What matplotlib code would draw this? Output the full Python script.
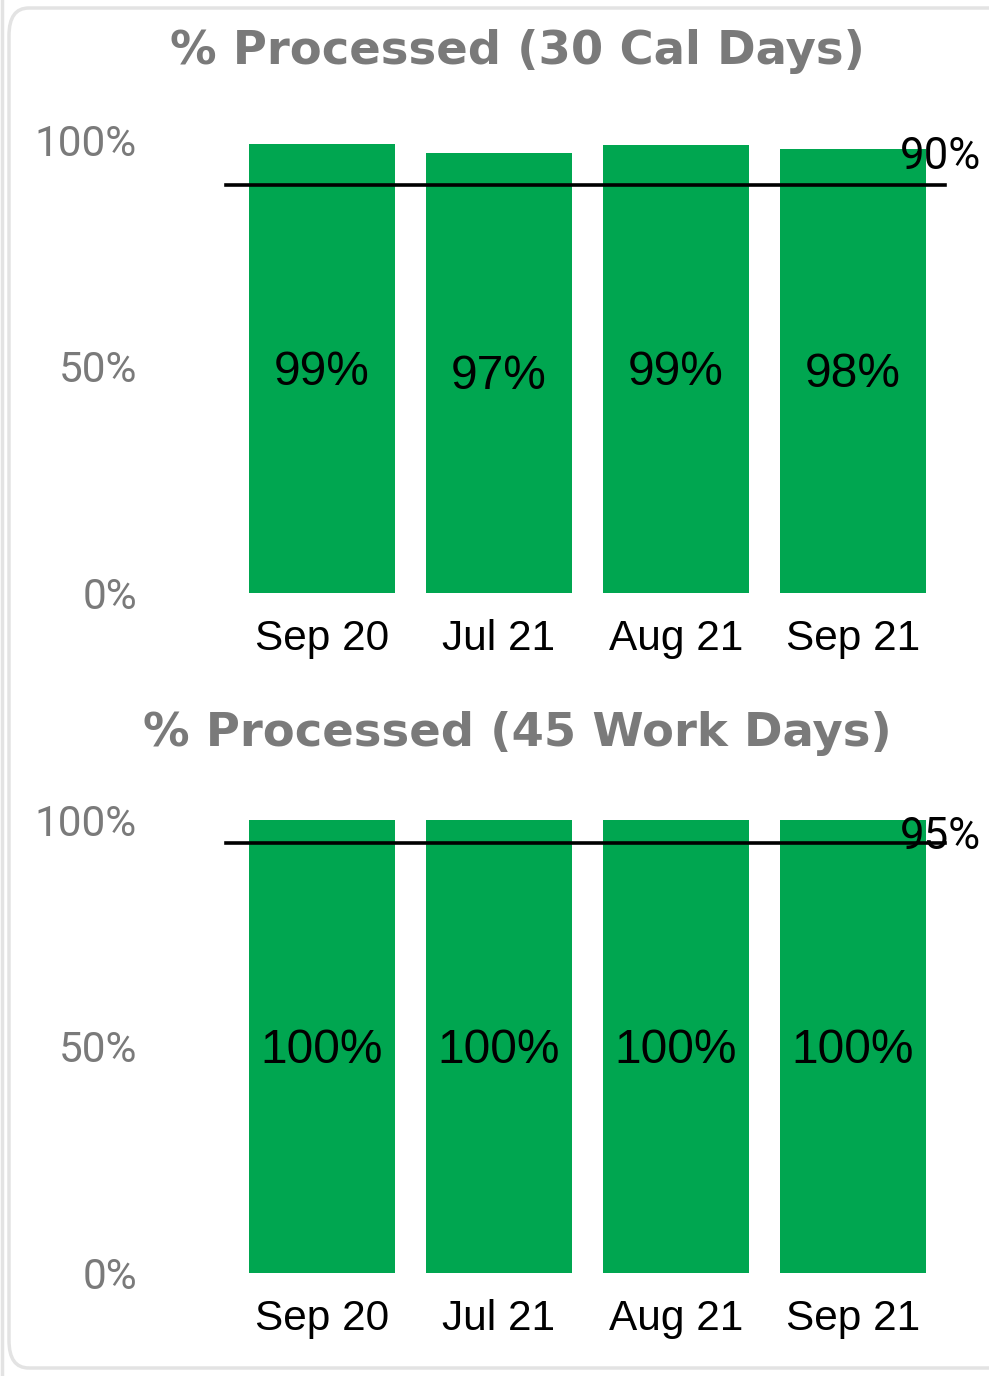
import matplotlib
matplotlib.use("Agg")
import matplotlib.pyplot as plt
from matplotlib.patches import FancyBboxPatch
from matplotlib.lines import Line2D

months = ["Sep 20", "Jul 21", "Aug 21", "Sep 21"]
cal_days = [0.991, 0.971, 0.99, 0.98]
work_days = [1.0, 1.0, 1.0, 1.0]
cal_target = 0.90
work_target = 0.95
y_ticks = [0, 0.5, 1.0]
y_labels = ["0%", "50%", "100%"]

green = "#00a650"
grey = "#7a7a7a"

fig = plt.figure(figsize=(9.89, 13.76), dpi=100)

# card border
card = FancyBboxPatch((9 / 989, 8 / 1376), 1.2, 1 - 16 / 1376,
                      boxstyle="round,pad=0,rounding_size=0.02",
                      transform=fig.transFigure, facecolor="none",
                      edgecolor="#e3e3e3", linewidth=2.5, zorder=0)
fig.patches.append(card)
fig.lines.append(Line2D([2 / 989, 2 / 989], [0, 1], transform=fig.transFigure,
                        color="#e3e3e3", linewidth=2.5))


def draw_panel(ax, values, target, title, title_y):
    x = range(len(months))
    ax.bar(x, values, width=0.825, color=green, zorder=2)
    for i, v in zip(x, values):
        ax.text(i, v / 2 - 0.008, f"{v:.0%}", ha="center", va="center",
                fontsize=34.5, family="Liberation Sans", color="black", zorder=3)
    ax.set_xlim(-0.54, 3.56)
    ax.set_ylim(0, 1.0)
    ax.plot([-0.54, 3.52], [target, target], color="black", linewidth=2.6,
            zorder=4, clip_on=False)
    ax.text(3.725, 0.962, f"{target:.0%}", ha="right", va="center",
            fontsize=31.5, family="Roboto", color="black", zorder=5)
    ax.set_xticks(list(x))
    ax.set_xticklabels(months, fontsize=30.5, family="Liberation Sans", color="black")
    ax.set_yticks(y_ticks)
    ax.set_yticklabels(y_labels, fontsize=30.5, family="Roboto", color=grey)
    ax.tick_params(axis="y", length=0, pad=64)
    ax.tick_params(axis="x", length=0, pad=19)
    for s in ax.spines.values():
        s.set_visible(False)
    ax.patch.set_alpha(0)
    fig.text(517 / 989, title_y, title, ha="center", va="center",
             fontsize=33.5, fontweight="bold", family="DejaVu Sans", color=grey)


ax1 = fig.add_axes([226 / 989, (1376 - 593) / 1376, 726 / 989, 453 / 1376])
ax2 = fig.add_axes([226 / 989, (1376 - 1273) / 1376, 726 / 989, 453 / 1376])

draw_panel(ax1, cal_days, cal_target, "% Processed (30 Cal Days)", 1 - 52 / 1376)
draw_panel(ax2, work_days, work_target, "% Processed (45 Work Days)", 1 - 733 / 1376)

fig.savefig("out.png", dpi=100)
